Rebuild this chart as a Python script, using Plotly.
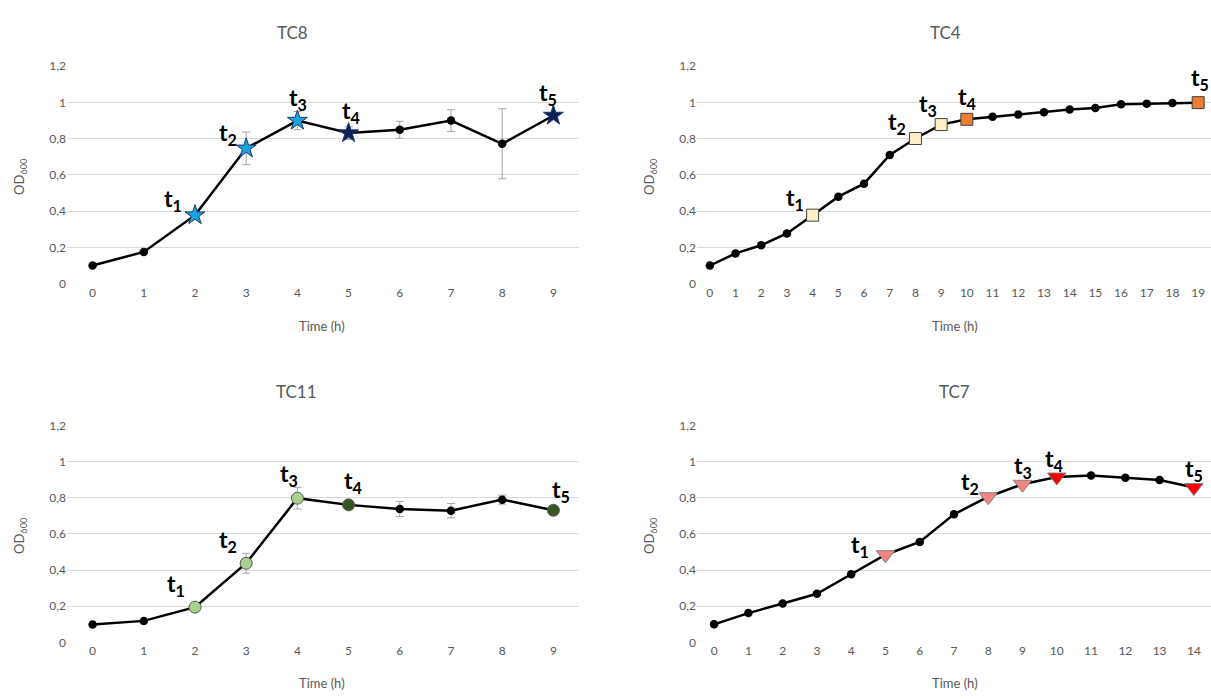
import plotly.graph_objects as go

# ---------------- data ----------------
tc8_time = list(range(10))
tc8_od = [0.10, 0.175, 0.378, 0.747, 0.90, 0.831, 0.849, 0.90, 0.772, 0.928]
tc8_err = [0.0, 0.0, 0.01, 0.09, 0.05, 0.035, 0.047, 0.06, 0.193, 0.015]
tc8_t_idx = [2, 3, 4, 5, 9]

tc4_time = list(range(20))
tc4_od = [0.10, 0.167, 0.212, 0.277, 0.378, 0.48, 0.552, 0.71, 0.801, 0.878,
          0.907, 0.921, 0.934, 0.946, 0.961, 0.97, 0.99, 0.993, 0.997, 0.999]
tc4_t_idx = [4, 8, 9, 10, 19]

tc11_time = list(range(10))
tc11_od = [0.099, 0.119, 0.195, 0.438, 0.798, 0.761, 0.738, 0.729, 0.79, 0.731]
tc11_err = [0.0, 0.0, 0.01, 0.055, 0.06, 0.015, 0.042, 0.04, 0.025, 0.01]
tc11_t_idx = [2, 3, 4, 5, 9]

tc7_time = list(range(15))
tc7_od = [0.10, 0.162, 0.215, 0.269, 0.377, 0.485, 0.556, 0.709, 0.806, 0.875,
          0.915, 0.924, 0.911, 0.899, 0.857]
tc7_t_idx = [5, 8, 9, 10, 14]

t_labels = ["t<sub>1</sub>", "t<sub>2</sub>", "t<sub>3</sub>", "t<sub>4</sub>", "t<sub>5</sub>"]
y_ticks = [0, 0.2, 0.4, 0.6, 0.8, 1.0, 1.2]
y_ticktext = ["0", "0,2", "0,4", "0,6", "0,8", "1", "1,2"]

# ---------------- styling ----------------
W, H = 1211, 699
FONT = "Lato"
GREY = "#595959"
GRID = "#d9d9d9"

panels = [
    dict(name="TC8", x=tc8_time, y=tc8_od, err=tc8_err, tidx=tc8_t_idx,
         symbol="star", size=15, light="#1aa3e0", dark="#0e1f5b", line="#1f3864",
         xdom=(67, 579), ydom=(59.5, 281.7), title_xy=(292, 25), xt_xy=(322, 325),
         od_x=20,
         shifts=[(-22, 16), (-18, 15), (1, 22), (2, 22), (-5, 22)]),
    dict(name="TC4", x=tc4_time, y=tc4_od, err=None, tidx=tc4_t_idx,
         symbol="square", size=12, light="#fdf0c7", dark="#ed7d31", line="#404040",
         xdom=(697, 1211), ydom=(59.5, 281.7), title_xy=(945, 25), xt_xy=(955, 325),
         od_x=650,
         shifts=[(-18, 17), (-18, 16), (-13, 20), (0, 22), (2, 24)]),
    dict(name="TC11", x=tc11_time, y=tc11_od, err=tc11_err, tidx=tc11_t_idx,
         symbol="circle", size=12, light="#a9d18e", dark="#375623", line="#595959",
         xdom=(67, 579), ydom=(426.7, 648.3), title_xy=(296, 392), xt_xy=(322, 690),
         od_x=20,
         shifts=[(-19, 23), (-18, 23), (-8, 24), (4, 23), (8, 20)]),
    dict(name="TC7", x=tc7_time, y=tc7_od, err=None, tidx=tc7_t_idx,
         symbol="triangle-down", size=16, light="#f4847f", dark="#ff0000", line="#7f7f7f",
         xdom=(697, 1211), ydom=(426.7, 648.3), title_xy=(954, 392), xt_xy=(955, 690),
         od_x=650,
         shifts=[(-25, 9), (-18, 14), (0, 18), (-3, 18), (0, 18)]),
]

fig = go.Figure()
annotations = []

for i, p in enumerate(panels, start=1):
    xa = "x" if i == 1 else f"x{i}"
    ya = "y" if i == 1 else f"y{i}"
    n = len(p["x"])
    symbols, colors, sizes, lcolors, lwidths = [], [], [], [], []
    for k in range(n):
        if k in p["tidx"]:
            j = p["tidx"].index(k)
            symbols.append(p["symbol"])
            colors.append(p["light"] if j < 3 else p["dark"])
            sizes.append(p["size"])
            lcolors.append(p["line"])
            lwidths.append(1)
        else:
            symbols.append("circle")
            colors.append("black")
            sizes.append(8.5)
            lcolors.append("black")
            lwidths.append(0)
    err = None
    if p["err"] is not None:
        err = dict(type="data", array=p["err"], visible=True, color="#a6a6a6",
                   thickness=1, width=4)
    fig.add_trace(go.Scatter(
        x=p["x"], y=p["y"], mode="lines+markers", xaxis=xa, yaxis=ya,
        line=dict(color="black", width=2.5),
        marker=dict(symbol=symbols, color=colors, size=sizes, opacity=1,
                    line=dict(color=lcolors, width=lwidths)),
        error_y=err, showlegend=False, hoverinfo="x+y"))

    x0, x1 = p["xdom"]
    y0, y1 = p["ydom"]
    axkey = "xaxis" if i == 1 else f"xaxis{i}"
    aykey = "yaxis" if i == 1 else f"yaxis{i}"
    fig.update_layout(**{
        axkey: dict(domain=[x0 / W, min(x1 / W, 1.0)], anchor=ya,
                    range=[-0.5, n - 0.5], tickvals=p["x"],
                    ticktext=[str(v) for v in p["x"]],
                    showgrid=False, zeroline=False, showline=False,
                    ticks="", ticklen=0, tickfont=dict(family=FONT, size=12, color=GREY),
                    fixedrange=True),
        aykey: dict(domain=[1 - y1 / H, 1 - y0 / H], anchor=xa,
                    range=[0, 1.2], tickvals=y_ticks, ticktext=y_ticktext,
                    showgrid=True, gridcolor=GRID, gridwidth=1,
                    zeroline=False, showline=False, ticks="",
                    tickfont=dict(family=FONT, size=12, color=GREY),
                    fixedrange=True),
    })

    # t labels
    for j, k in enumerate(p["tidx"]):
        dx, dy = p["shifts"][j]
        annotations.append(dict(
            x=p["x"][k], y=p["y"][k], xref=xa, yref=ya,
            text="<b>" + t_labels[j] + "</b>", showarrow=False,
            xanchor="center", yanchor="middle",
            xshift=dx, yshift=dy,
            font=dict(family=FONT, size=23, color="black")))

    # panel title
    tx, ty = p["title_xy"]
    annotations.append(dict(
        x=tx / W, y=1 - ty / H, xref="paper", yref="paper",
        text=p["name"], showarrow=False, xanchor="center", yanchor="middle",
        font=dict(family=FONT, size=17, color=GREY)))
    # x-axis title
    xx, xy = p["xt_xy"]
    annotations.append(dict(
        x=xx / W, y=1 - xy / H, xref="paper", yref="paper",
        text="Time (h)", showarrow=False, xanchor="center", yanchor="middle",
        font=dict(family=FONT, size=13, color=GREY)))
    # y-axis title
    annotations.append(dict(
        x=p["od_x"] / W, y=1 - ((y0 + y1) / 2 + 2) / H, xref="paper", yref="paper",
        text="OD<sub>600</sub>", showarrow=False, textangle=-90,
        xanchor="center", yanchor="middle",
        font=dict(family=FONT, size=13, color=GREY)))

fig.update_layout(
    width=W, height=H, margin=dict(l=0, r=0, t=0, b=0),
    paper_bgcolor="white", plot_bgcolor="white",
    annotations=annotations, font=dict(family=FONT),
)

fig.write_html(
    "out.html",
    config={"displayModeBar": False},
    post_script=(
        "document.body.style.margin='0';"
        "document.body.style.overflow='hidden';"
    ),
)
